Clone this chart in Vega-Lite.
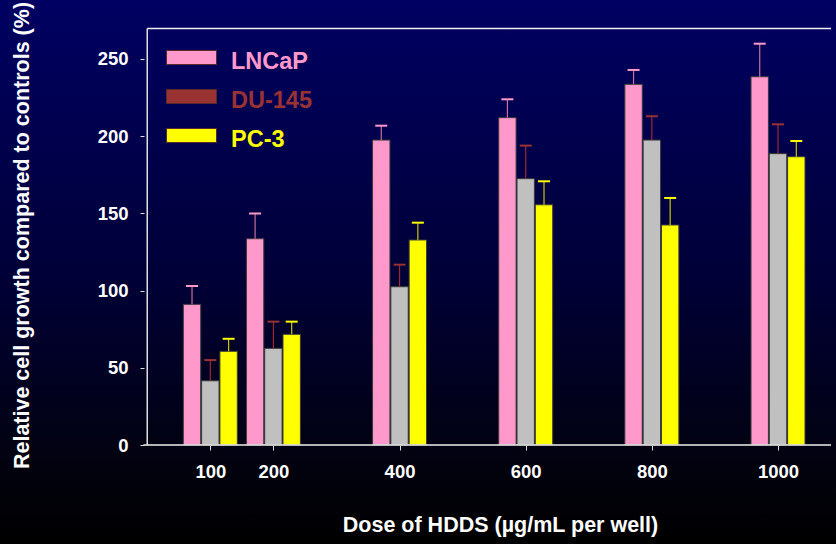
{
  "$schema": "https://vega.github.io/schema/vega-lite/v6.json",
  "width": 836,
  "height": 544,
  "autosize": {"type": "none"},
  "padding": 0,
  "background": "#000000",
  "config": {
    "view": {"stroke": null, "fill": {"gradient": "linear", "x1": 0, "y1": 0, "x2": 0, "y2": 1, "stops": [{"offset": 0, "color": "#000062"}, {"offset": 0.5, "color": "#000038"}, {"offset": 0.85, "color": "#02020f"}, {"offset": 1, "color": "#000000"}]}},
    "font": "Liberation Sans",
    "axis": {"labelFont": "Liberation Sans", "titleFont": "Liberation Sans", "labelColor": "#ffffff", "titleColor": "#ffffff", "labelFontWeight": "bold", "titleFontWeight": "bold", "tickColor": "#dddddd", "grid": false, "domain": false}
  },
  "data": {"values": [
    {"dose": 100, "cell": "LNCaP", "value": 91.1, "upper": 103},
    {"dose": 100, "cell": "DU-145", "value": 41.6, "upper": 55},
    {"dose": 100, "cell": "PC-3", "value": 60.7, "upper": 68.8},
    {"dose": 200, "cell": "LNCaP", "value": 133.6, "upper": 150},
    {"dose": 200, "cell": "DU-145", "value": 62.6, "upper": 79.9},
    {"dose": 200, "cell": "PC-3", "value": 71.7, "upper": 79.9},
    {"dose": 400, "cell": "LNCaP", "value": 197.5, "upper": 206.8},
    {"dose": 400, "cell": "DU-145", "value": 102.5, "upper": 116.8},
    {"dose": 400, "cell": "PC-3", "value": 132.8, "upper": 144},
    {"dose": 600, "cell": "LNCaP", "value": 212, "upper": 223.9},
    {"dose": 600, "cell": "DU-145", "value": 172.5, "upper": 193.9},
    {"dose": 600, "cell": "PC-3", "value": 155.6, "upper": 170.8},
    {"dose": 800, "cell": "LNCaP", "value": 233.6, "upper": 242.9},
    {"dose": 800, "cell": "DU-145", "value": 197.5, "upper": 212.9},
    {"dose": 800, "cell": "PC-3", "value": 142.5, "upper": 160},
    {"dose": 1000, "cell": "LNCaP", "value": 238.5, "upper": 259.9},
    {"dose": 1000, "cell": "DU-145", "value": 188.7, "upper": 207.7},
    {"dose": 1000, "cell": "PC-3", "value": 186.7, "upper": 196.9}
  ]},
  "encoding": {
    "x": {"field": "dose", "type": "quantitative", "scale": {"domain": [-225.5, 1084], "nice": false, "zero": false},
      "axis": {"values": [100, 200, 400, 600, 800, 1000], "format": "d", "orient": "bottom", "offset": -99, "tickSize": 5, "labelPadding": 12, "labelFontSize": 18.5,
        "title": "Dose of HDDS (µg/mL per well)", "titleFontSize": 21.5, "titleX": 500, "titleY": 80, "titleBaseline": "middle", "titleAlign": "center", "titleAnchor": null}},
    "y": {"field": "value", "type": "quantitative", "scale": {"domain": [-64.1, 288.2], "nice": false, "zero": false},
      "axis": {"values": [0, 50, 100, 150, 200, 250], "orient": "left", "offset": -144, "tickSize": 4, "labelPadding": 12, "labelFontSize": 18.5,
        "title": "Relative cell growth compared to controls (%)", "titleFontSize": 21.5, "titleAngle": -90, "titleX": -122, "titleY": 235, "titleBaseline": "middle", "titleAlign": "center", "titleAnchor": null}}
  },
  "layer": [
    {"transform": [{"filter": "datum.cell === 'LNCaP'"}], "mark": {"type": "bar", "xOffset": -18.3, "width": 17.4, "fill": "#FF99CC", "stroke": "#3a3a3a", "strokeWidth": 1}},
    {"transform": [{"filter": "datum.cell === 'DU-145'"}], "mark": {"type": "bar", "xOffset": 0, "width": 17.4, "fill": "#C0C0C0", "stroke": "#3a3a3a", "strokeWidth": 1}},
    {"transform": [{"filter": "datum.cell === 'PC-3'"}], "mark": {"type": "bar", "xOffset": 18.3, "width": 17.4, "fill": "#FFFF00", "stroke": "#3a3a3a", "strokeWidth": 1}},
    {"transform": [{"filter": "datum.cell === 'LNCaP'"}], "mark": {"type": "rule", "xOffset": -18.3, "stroke": "#c87098", "strokeWidth": 1.2}, "encoding": {"y2": {"field": "upper"}}},
    {"transform": [{"filter": "datum.cell === 'DU-145'"}], "mark": {"type": "rule", "xOffset": 0, "stroke": "#a02828", "strokeWidth": 1.2}, "encoding": {"y2": {"field": "upper"}}},
    {"transform": [{"filter": "datum.cell === 'PC-3'"}], "mark": {"type": "rule", "xOffset": 18.3, "stroke": "#c8c800", "strokeWidth": 1.2}, "encoding": {"y2": {"field": "upper"}}},
    {"transform": [{"filter": "datum.cell === 'LNCaP'"}], "mark": {"type": "tick", "orient": "horizontal", "xOffset": -18.3, "size": 12, "thickness": 2, "opacity": 1},
      "encoding": {"y": {"field": "upper", "type": "quantitative"},
        "color": {"field": "cell", "type": "nominal", "scale": {"domain": ["LNCaP", "DU-145", "PC-3"], "range": ["#FF99CC", "#993333", "#FFFF00"]},
          "legend": {"title": null, "orient": "none", "legendX": 166, "legendY": 36.5, "padding": 0, "symbolType": "M-1,-0.46H1V0.1H-1Z", "symbolSize": 2500, "symbolStrokeWidth": 1, "symbolStrokeColor": "#5a2a2a", "labelFont": "Liberation Sans", "labelFontSize": 23.5, "labelFontWeight": "bold", "labelOffset": 14, "rowPadding": 2,
            "labelColor": {"expr": "scale('color', datum.value)"},
            "encode": {"symbols": {"update": {"fill": {"scale": "color", "field": "value"}, "stroke": {"value": "#5a2a2a"}, "opacity": {"value": 1}}}, "labels": {"update": {"fill": {"scale": "color", "field": "value"}}}}}}}},
    {"transform": [{"filter": "datum.cell === 'DU-145'"}], "mark": {"type": "tick", "orient": "horizontal", "xOffset": 0, "size": 12, "thickness": 2, "opacity": 1},
      "encoding": {"y": {"field": "upper", "type": "quantitative"},
        "color": {"field": "cell", "type": "nominal", "legend": null}}},
    {"transform": [{"filter": "datum.cell === 'PC-3'"}], "mark": {"type": "tick", "orient": "horizontal", "xOffset": 18.3, "size": 12, "thickness": 2, "opacity": 1},
      "encoding": {"y": {"field": "upper", "type": "quantitative"},
        "color": {"field": "cell", "type": "nominal", "legend": null}}},
    {"transform": [{"filter": "datum.dose === 100 && datum.cell === 'LNCaP'"}], "mark": {"type": "rule", "stroke": "#e0e0e0", "strokeWidth": 1.5},
      "encoding": {"x": {"datum": 0, "type": "quantitative"}, "y": {"datum": 0, "type": "quantitative"}, "y2": {"datum": 269.7}}},
    {"transform": [{"filter": "datum.dose === 100 && datum.cell === 'LNCaP'"}], "mark": {"type": "rule", "stroke": "#f0f0f0", "strokeWidth": 1.5},
      "encoding": {"x": {"datum": -6, "type": "quantitative"}, "x2": {"datum": 1084}, "y": {"datum": 0, "type": "quantitative"}}},
    {"transform": [{"filter": "datum.dose === 100 && datum.cell === 'LNCaP'"}], "mark": {"type": "rule", "stroke": "#f0f0f0", "strokeWidth": 1.5},
      "encoding": {"x": {"datum": 0, "type": "quantitative"}, "x2": {"datum": 1084}, "y": {"datum": 269.7, "type": "quantitative"}}}
  ]
}
